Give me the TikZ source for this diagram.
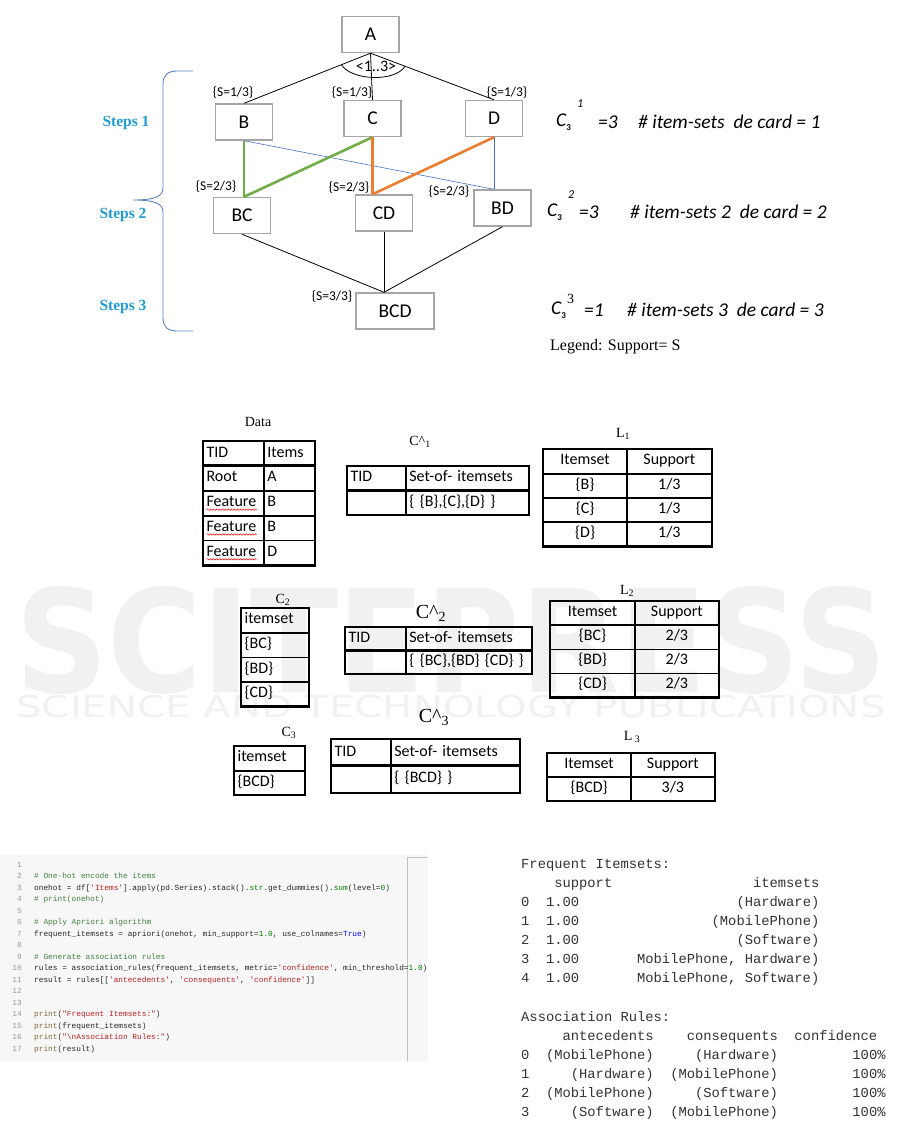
\documentclass[tikz,border=0pt]{standalone}
\usepackage{fontspec}
\setmainfont{Liberation Serif}
\setmonofont{Liberation Mono}
\newfontfamily\calfont{Carlito}
\newfontfamily\wmfont{DejaVu Sans}
\usepackage{xcolor}
\usetikzlibrary{positioning}
\usetikzlibrary{calc}
\usetikzlibrary{matrix}
\usetikzlibrary{decorations.pathmorphing}

\definecolor{boxgray}{HTML}{A6A6A6}
\definecolor{stepblue}{HTML}{1F9BD6}
\definecolor{bracecol}{HTML}{5B83C0}
\definecolor{lgreen}{HTML}{70AD47}
\definecolor{lorange}{HTML}{ED7D31}
\definecolor{lblue}{HTML}{4472C4}
\definecolor{wmgray}{HTML}{F1F1F1}
\definecolor{codecmt}{HTML}{408040}
\definecolor{codestr}{HTML}{BA2121}
\definecolor{codenum}{HTML}{008000}
\definecolor{codekw}{HTML}{0000FF}
\definecolor{codepr}{HTML}{7D6B3D}
\definecolor{codeln}{HTML}{999999}
\definecolor{outtxt}{HTML}{333333}

\newcommand{\cCom}[1]{\textcolor{codecmt}{#1}}
\newcommand{\cStr}[1]{\textcolor{codestr}{#1}}
\newcommand{\cNum}[1]{\textcolor{codenum}{#1}}
\newcommand{\cKw}[1]{\textcolor{codekw}{#1}}
\newcommand{\cPr}[1]{\textcolor{codepr}{#1}}
\newcommand{\opad}[1]{\hspace*{#1\fontcharwd\font`0}}

\begin{document}
\begin{tikzpicture}[x=1pt, y=-1pt,
    latbox/.style = {draw=boxgray, line width=1.4pt, minimum width=57pt, minimum height=36pt,
                     inner sep=0pt, font=\calfont\fontsize{19.5}{21}\selectfont},
    slabel/.style = {font=\calfont\fontsize{13.5}{15}\selectfont, inner sep=0pt},
    steplabel/.style = {font=\fontsize{15.5}{17}\selectfont\bfseries, text=stepblue, inner sep=0pt},
    formula/.style = {font=\calfont\itshape\fontsize{19.5}{22}\selectfont, inner sep=0pt, anchor=west},
    plain/.style = {black, line width=0.8pt},
    greenl/.style = {lgreen, line width=2.6pt},
    orangel/.style = {lorange, line width=2.6pt},
    bluel/.style = {lblue, line width=0.6pt},
    % tables
    tbl/.style = {matrix of nodes, nodes in empty cells, inner sep=0pt, row sep=0pt, column sep=0pt,
                  nodes={draw, line width=0.8pt, inner sep=3pt, outer sep=0pt, anchor=center,
                         font=\calfont\fontsize{16}{18}\selectfont, text height=10pt, text depth=3pt,
                         minimum height=#1}},
    lcol/.style = {nodes={text width=#1, align=left}},
    ccol/.style = {nodes={minimum width=#1}},
    thickline/.style = {line width=2.4pt},
    tcap/.style = {font=\fontsize{14}{16}\selectfont, inner sep=0pt},
    bigcap/.style = {font=\fontsize{20}{22}\selectfont, inner sep=0pt},
    spell/.style = {red, line width=0.5pt, decorate, decoration={snake, amplitude=0.7pt, segment length=3pt}},
    % code and output
    codeline/.style = {font=\ttfamily\fontsize{7.8}{9}\selectfont, text=black!85, inner sep=0pt, anchor=base west},
    lineno/.style = {font=\ttfamily\fontsize{7.8}{9}\selectfont, text=codeln, inner sep=0pt, anchor=base east},
    outline/.style = {font=\ttfamily\fontsize{13.8}{16}\selectfont, text=outtxt, inner sep=0pt, anchor=base west},
    wm/.style = {text=wmgray, inner sep=0pt}
  ]

  \useasboundingbox (0,0) rectangle (901,1127);
  \fill[white] (0,0) rectangle (901,1127);

  % --- watermark ---
  \node[wm, font=\wmfont\bfseries\fontsize{143}{143}\selectfont] (wm1) at (451,640) {\scalebox{0.9}[1]{SCITEPRESS}};
  \node[wm, font=\wmfont\fontsize{30}{30}\selectfont] (wm2) at (451,707) {\scalebox{1.34}[1]{SCIENCE AND TECHNOLOGY PUBLICATIONS}};

  % --- lattice ---
  \node[latbox] (A) at (370.5,34.5) {A};
  \node[latbox] (B) at (244,122) {B};
  \node[latbox] (C) at (372.5,118.5) {C};
  \node[latbox] (D) at (494,118.5) {D};
  \node[latbox] (BC) at (242,215.5) {BC};
  \node[latbox] (CD) at (384,213) {CD};
  \node[latbox] (BD) at (502.5,208) {BD};
  \node[latbox, minimum width=78pt] (BCD) at (395,311) {BCD};

  \draw[plain] (A.south) -- (B.north);
  \draw[plain] (A.south) -- (C.north);
  \draw[plain] (A.south) -- (D.north);
  \coordinate (arcL) at ($(A.south)!0.23!(B.north)$);
  \coordinate (arcR) at ($(A.south)!0.28!(D.north)$);
  \draw[plain] (arcL) .. controls +(10,16) and +(-10,16) .. (arcR);
  \node[slabel, font=\calfont\fontsize{16}{18}\selectfont] (range) at (376,66) {<1..3>};

  \coordinate (bcTop) at (B.south |- BC.north);
  \coordinate (cdTop) at (C.south |- CD.north);
  \coordinate (bdTop) at (D.south |- BD.north);
  \coordinate (bcdTop) at (CD.south |- BCD.north);
  \draw[bluel] (B.south) -- (bdTop);
  \draw[bluel] (D.south) -- (bdTop);
  \draw[greenl] (B.south) -- (bcTop);
  \draw[greenl] (C.south) -- (bcTop);
  \draw[orangel] (C.south) -- (cdTop);
  \draw[orangel] (D.south) -- (cdTop);
  \draw[plain] (BC.south) -- (bcdTop);
  \draw[plain] (CD.south) -- (bcdTop);
  \draw[plain] (BD.south) -- (bcdTop);

  % support labels
  \node[slabel] (sB) at (233,93) {\{S=1/3\}};
  \node[slabel] (sC) at (352,93) {\{S=1/3\}};
  \node[slabel] (sD) at (507,93) {\{S=1/3\}};
  \node[slabel] (sBC) at (216,187) {\{S=2/3\}};
  \node[slabel] (sCD) at (349,188) {\{S=2/3\}};
  \node[slabel] (sBD) at (449,192) {\{S=2/3\}};
  \node[slabel] (sBCD) at (332,297) {\{S=3/3\}};

  % steps and brace
  \node[steplabel] (st1) at (126,123) {Steps 1};
  \node[steplabel] (st2) at (123,215) {Steps 2};
  \node[steplabel] (st3) at (123,307) {Steps 3};
  \draw[bracecol, line width=0.9pt] (193,71) -- (177,71) .. controls (168,71) and (163,75) .. (163,84)
      -- (163,188) .. controls (163,196) and (156,200) .. (133,200)
      .. controls (156,200) and (163,204) .. (163,212)
      -- (163,318) .. controls (163,327) and (168,331) .. (177,331) -- (193,331);

  % formulas
  \node[formula] (f1c) at (556,122) {C\raisebox{-4pt}{\upshape\bfseries\fontsize{9}{9}\selectfont 3}};
  \node[formula, font=\calfont\itshape\fontsize{12}{12}\selectfont] (f1s) at (577,104) {1};
  \node[formula] (f1e) at (598,122) {=3};
  \node[formula] (f1t) at (638,122) {\# item-sets\ \ de card = 1};

  \node[formula] (f2c) at (547,212) {C\raisebox{-4pt}{\upshape\bfseries\fontsize{9}{9}\selectfont 3}};
  \node[formula, font=\calfont\itshape\fontsize{12}{12}\selectfont] (f2s) at (568,195) {2};
  \node[formula] (f2e) at (579,212) {=3};
  \node[formula] (f2t) at (630,212) {\# item-sets 2\ \ de card = 2};

  \node[formula] (f3c) at (551,310) {C\raisebox{-4pt}{\upshape\bfseries\fontsize{9}{9}\selectfont 3}};
  \node[formula, font=\fontsize{14}{14}\selectfont] (f3s) at (567,299) {3};
  \node[formula] (f3e) at (584,310) {=1};
  \node[formula] (f3t) at (627,310) {\# item-sets 3\ \ de card = 3};

  \node[inner sep=0pt, anchor=west, font=\fontsize{16}{18}\selectfont] (legend) at (550,347) {Legend: Support= S};

  % --- tables ---
  \node[tcap] (datacap) at (258,422) {Data};
  \matrix (data) [tbl=24pt, column 1/.style={lcol=54pt}, column 2/.style={lcol=44pt}, anchor=north west] at (203,441) {
    TID & Items \\
    Root & A \\
    Feature & B \\
    Feature & B \\
    Feature & D \\
  };
  \draw[thickline] (data.north west) rectangle (data.south east);
  \draw[thickline] (data-1-1.south west) -- (data-1-2.south east);
  \foreach \r in {3,4,5}
    \draw[spell] ([xshift=3pt, yshift=-3pt]data-\r-1.base west) -- ++(50pt,0);

  \node[tcap] (c1cap) at (420,442) {C\textasciicircum\textsubscript{1}};
  \matrix (c1tab) [tbl=23.5pt, column 1/.style={lcol=52pt}, column 2/.style={lcol=116pt}, anchor=north west] at (347,466) {
    TID & Set-of- itemsets \\
        & \{ \{B\},\{C\},\{D\} \} \\
  };
  \draw[thickline] (c1tab.north west) rectangle (c1tab.south east);
  \draw[thickline] (c1tab-1-1.south west) -- (c1tab-1-2.south east);

  \node[tcap] (l1cap) at (623,434) {L\textsubscript{1}};
  \matrix (l1tab) [tbl=23.5pt, column 1/.style={ccol=83pt}, column 2/.style={ccol=84pt}, anchor=north west] at (543,449) {
    Itemset & Support \\
    \{B\} & 1/3 \\
    \{C\} & 1/3 \\
    \{D\} & 1/3 \\
  };
  \draw[thickline] (l1tab.north west) rectangle (l1tab.south east);

  \node[tcap] (c2cap) at (283,600) {C\textsubscript{2}};
  \matrix (c2tab) [tbl=23.75pt, column 1/.style={lcol=61pt}, anchor=north west] at (241,608) {
    itemset \\
    \{BC\} \\
    \{BD\} \\
    \{CD\} \\
  };
  \draw[thickline] (c2tab.north west) rectangle (c2tab.south east);

  \node[bigcap] (cc2cap) at (431,613) {C\textasciicircum\textsubscript{2}};
  \matrix (cc2tab) [tbl=22.5pt, column 1/.style={lcol=54pt}, column 2/.style={lcol=119pt}, anchor=north west] at (345,627) {
    TID & Set-of- itemsets \\
        & \{ \{BC\},\{BD\} \{CD\} \} \\
  };
  \draw[thickline] (cc2tab.north west) rectangle (cc2tab.south east);
  \draw[thickline] (cc2tab-1-1.south west) -- (cc2tab-1-2.south east);

  \node[tcap] (l2cap) at (627,591) {L\textsubscript{2}};
  \matrix (l2tab) [tbl=23.25pt, column 1/.style={ccol=84pt}, column 2/.style={ccol=83pt}, anchor=north west] at (550,601) {
    Itemset & Support \\
    \{BC\} & 2/3 \\
    \{BD\} & 2/3 \\
    \{CD\} & 2/3 \\
  };
  \draw[thickline] (l2tab.north west) rectangle (l2tab.south east);

  \node[bigcap] (cc3cap) at (434,717) {C\textasciicircum\textsubscript{3}};
  \matrix (cc3tab) [tbl=26pt, column 1/.style={lcol=53pt}, column 2/.style={lcol=122pt}, anchor=north west] at (331,739) {
    TID & Set-of- itemsets \\
        & \{ \{BCD\} \} \\
  };
  \draw[thickline] (cc3tab.north west) rectangle (cc3tab.south east);
  \draw[thickline] (cc3tab-1-1.south west) -- (cc3tab-1-2.south east);

  \node[tcap] (c3cap) at (289,733) {C\textsubscript{3}};
  \matrix (c3tab) [tbl=23.5pt, column 1/.style={lcol=64pt}, anchor=north west] at (234,746) {
    itemset \\
    \{BCD\} \\
  };
  \draw[thickline] (c3tab.north west) rectangle (c3tab.south east);

  \node[tcap] (l3cap) at (632,737) {L\,\textsubscript{3}};
  \matrix (l3tab) [tbl=23pt, column 1/.style={ccol=83pt}, column 2/.style={ccol=83pt}, anchor=north west] at (547,753) {
    Itemset & Support \\
    \{BCD\} & 3/3 \\
  };
  \draw[thickline] (l3tab.north west) rectangle (l3tab.south east);

  % --- code screenshot ---
  \fill[black!3] (0,855) rectangle (428,1061);
  \draw[black!25, line width=0.8pt] (407,1061) -- (407,857) -- (427,857);
  \foreach \txt [count=\k] in {
      {},
      {\cCom{\# One-hot encode the items}},
      {onehot = df[\cStr{'Items'}].apply(pd.Series).stack().\cNum{str}.get\_dummies().\cNum{sum}(level=\cNum{0})},
      {\cCom{\# print(onehot)}},
      {},
      {\cCom{\# Apply Apriori algorithm}},
      {frequent\_itemsets = apriori(onehot, min\_support=\cNum{1.0}, use\_colnames=\cKw{True})},
      {},
      {\cCom{\# Generate association rules}},
      {rules = association\_rules(frequent\_itemsets, metric=\cStr{'confidence'}, min\_threshold=\cNum{1.0})},
      {result = rules[[\cStr{'antecedents'}, \cStr{'consequents'}, \cStr{'confidence'}]]},
      {},
      {},
      {\cPr{print}(\cStr{"Frequent Itemsets:"})},
      {\cPr{print}(frequent\_itemsets)},
      {\cPr{print}(\cStr{"\textbackslash nAssociation Rules:"})},
      {\cPr{print}(result)}} {
    \node[lineno] (n\k) at (22, {867+(\k-1)*11.52}) {\k};
    \node[codeline] (l\k) at (34, {867+(\k-1)*11.52}) {\txt};
  }

  % --- program output ---
  \foreach \txt [count=\k] in {
      {Frequent Itemsets:},
      {\opad{4}support\opad{17}itemsets},
      {0\opad{2}1.00\opad{19}(Hardware)},
      {1\opad{2}1.00\opad{16}(MobilePhone)},
      {2\opad{2}1.00\opad{19}(Software)},
      {3\opad{2}1.00\opad{7}MobilePhone, Hardware)},
      {4\opad{2}1.00\opad{7}MobilePhone, Software)},
      {},
      {Association Rules:},
      {\opad{5}antecedents\opad{4}consequents\opad{2}confidence},
      {0\opad{2}(MobilePhone)\opad{5}(Hardware)\opad{9}100\%},
      {1\opad{5}(Hardware)\opad{2}(MobilePhone)\opad{9}100\%},
      {2\opad{2}(MobilePhone)\opad{5}(Software)\opad{9}100\%},
      {3\opad{5}(Software)\opad{2}(MobilePhone)\opad{9}100\%}} {
    \node[outline] (o\k) at (521, {868+(\k-1)*19.15}) {\txt};
  }

\end{tikzpicture}
\end{document}
